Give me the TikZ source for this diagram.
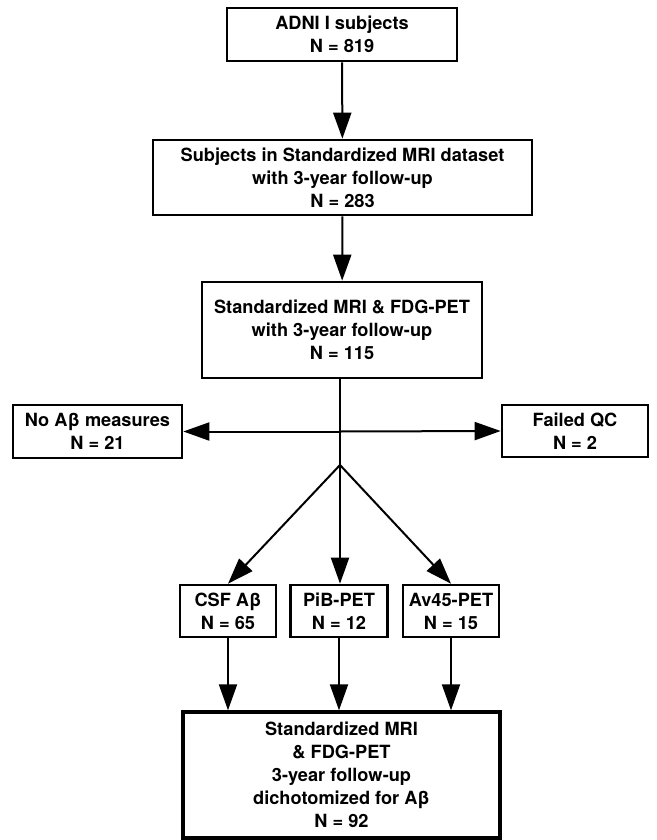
\documentclass[tikz,border=0pt]{standalone}
\usepackage{fontspec}
\setmainfont{TeX Gyre Heros}
\usetikzlibrary{arrows.meta}
\begin{document}
\begin{tikzpicture}[x=1pt,y=-1pt,
        box/.style = {draw, line width = 2.6pt, align = center, inner sep = 0pt,
            font = \fontsize{18.2}{23}\selectfont\bfseries},
        flow/.style = {line width = 2pt, -{Triangle[length = 26pt, width = 18pt]}}]
            \useasboundingbox (0,0) rectangle (656,840);
            \node[box, minimum width = 230, minimum height = 53] (adni) at (342,34.5) {ADNI I subjects\\N = 819};
            \node[box, minimum width = 379, minimum height = 75] (mri) at (342.5,177.5) {Subjects in Standardized MRI dataset\\with 3-year follow-up\\N = 283};
            \node[box, minimum width = 280, minimum height = 96] (fdg) at (342,330) {Standardized MRI \& FDG-PET\\with 3-year follow-up\\N = 115};
            \node[box, minimum width = 169, minimum height = 53] (noab) at (97.5,431.5) {No Aβ measures\\N = 21};
            \node[box, minimum width = 146, minimum height = 52] (qc) at (575,431) {Failed QC\\N = 2};
            \node[box, minimum width = 96, minimum height = 52] (csf) at (228,611) {CSF Aβ\\N = 65};
            \node[box, minimum width = 97, minimum height = 52] (pib) at (339,611) {PiB-PET\\N = 12};
            \node[box, minimum width = 96, minimum height = 52] (av) at (451,611) {Av45-PET\\N = 15};
            \node[box, line width = 3.4pt, minimum width = 317, minimum height = 126] (final) at (341.5,775) {Standardized MRI\\\& FDG-PET\\3-year follow-up\\dichotomized for Aβ\\N = 92};
            \coordinate (split) at (340,465);
            \coordinate (cross) at (split |- noab.east);
            \draw[flow] (adni) -- (mri);
            \draw[flow] (mri) -- (fdg);
            \draw[line width = 2pt] (fdg.south -| split) -- (split);
            \draw[flow] (cross) -- (noab.east);
            \draw[flow] (cross) -- (qc.west);
            \draw[flow] (split) -- (csf.north);
            \draw[flow] (split) -- (pib.north -| split);
            \draw[flow] (split) -- (av.north);
            \draw[flow] (csf.south) -- (csf.south |- final.north);
            \draw[flow] (pib.south) -- (pib.south |- final.north);
            \draw[flow] (av.south) -- (av.south |- final.north);
        \end{tikzpicture}
\end{document}
